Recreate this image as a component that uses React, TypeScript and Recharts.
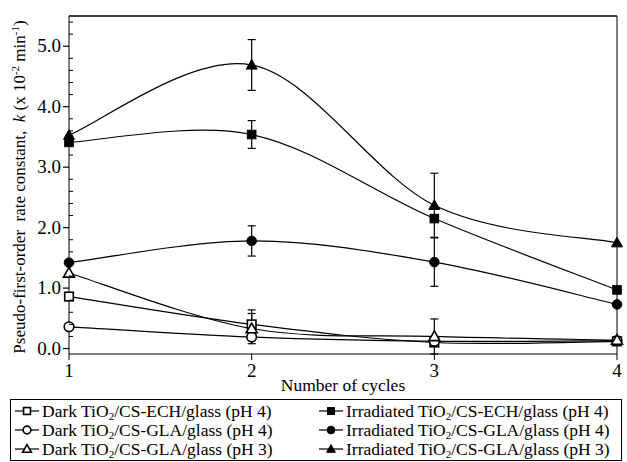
import React from "react"
import { LineChart, Line, XAxis, YAxis, ErrorBar, ReferenceLine } from "recharts"

const CYCLES = [1, 2, 3, 4]
const DARK_ECH = [0.86, 0.4, 0.1, 0.12]
const DARK_GLA4 = [0.36, 0.19, 0.12, 0.13]
const DARK_GLA3 = [1.25, 0.33, 0.2, 0.14]
const IRR_ECH = [3.41, 3.54, 2.15, 0.97]
const IRR_GLA4 = [1.42, 1.78, 1.43, 0.73]
const IRR_GLA3 = [3.53, 4.69, 2.37, 1.75]

const DARK_ECH_ERR = [0, 0.24, 0, 0]
const DARK_GLA4_ERR = [0, 0, 0, 0]
const DARK_GLA3_ERR = [0, 0.25, 0.29, 0]
const IRR_ECH_ERR = [0, 0.23, 0, 0]
const IRR_GLA4_ERR = [0, 0.25, 0.4, 0]
const IRR_GLA3_ERR = [0, 0.42, 0.53, 0]

const X_TICKS = [1, 2, 3, 4]
const Y_MAX = 5.5
const Y_TICKS = Array.from({ length: 28 }, (_, i) => Math.round(i * 2) / 10)
const Y_LABELS = ["0.0", "1.0", "2.0", "3.0", "4.0", "5.0"]

const SERIES = [
    { key: "darkEch", values: DARK_ECH, err: DARK_ECH_ERR, shape: "square", filled: false, name: "Dark", film: "CS-ECH", ph: 4 },
    { key: "darkGla4", values: DARK_GLA4, err: DARK_GLA4_ERR, shape: "circle", filled: false, name: "Dark", film: "CS-GLA", ph: 4 },
    { key: "darkGla3", values: DARK_GLA3, err: DARK_GLA3_ERR, shape: "triangle", filled: false, name: "Dark", film: "CS-GLA", ph: 3 },
    { key: "irrEch", values: IRR_ECH, err: IRR_ECH_ERR, shape: "square", filled: true, name: "Irradiated", film: "CS-ECH", ph: 4 },
    { key: "irrGla4", values: IRR_GLA4, err: IRR_GLA4_ERR, shape: "circle", filled: true, name: "Irradiated", film: "CS-GLA", ph: 4 },
    { key: "irrGla3", values: IRR_GLA3, err: IRR_GLA3_ERR, shape: "triangle", filled: true, name: "Irradiated", film: "CS-GLA", ph: 3 },
]

const data = CYCLES.map((c, i) => {
    const row: Record<string, number> = { cycle: c }
    SERIES.forEach(s => {
        row[s.key] = s.values[i]
        row[s.key + "Err"] = s.err[i]
    })
    return row
})

const FONT = '"Liberation Serif"'

// excel-like smoothed line (catmull-rom through the points)
function smoothCurve(context: any) {
    let pts: number[][] = []
    return {
        areaStart() {},
        areaEnd() {},
        lineStart() {
            pts = []
        },
        point(x: number, y: number) {
            pts.push([+x, +y])
        },
        lineEnd() {
            if (!pts.length) return
            context.moveTo(pts[0][0], pts[0][1])
            for (let i = 0; i < pts.length - 1; i++) {
                const p0 = pts[i - 1] || pts[i]
                const p1 = pts[i]
                const p2 = pts[i + 1]
                const p3 = pts[i + 2] || p2
                context.bezierCurveTo(
                    p1[0] + (p2[0] - p0[0]) / 6,
                    p1[1] + (p2[1] - p0[1]) / 6,
                    p2[0] - (p3[0] - p1[0]) / 6,
                    p2[1] - (p3[1] - p1[1]) / 6,
                    p2[0],
                    p2[1]
                )
            }
        },
    }
}

function Marker({ cx, cy, shape, filled, size = 1 }: any) {
    const fill = filled ? "#000" : "#fff"
    const sw = filled ? 1 : 1.6
    if (shape === "square") {
        const h = 4.3 * size
        return <rect x={cx - h} y={cy - h} width={2 * h} height={2 * h} fill={fill} stroke="#000" strokeWidth={sw} />
    }
    if (shape === "circle") {
        return <circle cx={cx} cy={cy} r={4.8 * size} fill={fill} stroke="#000" strokeWidth={sw} />
    }
    const r = 5.5 * size
    return (
        <polygon
            points={`${cx},${cy - r} ${cx + r},${cy + r * 0.75} ${cx - r},${cy + r * 0.75}`}
            fill={fill}
            stroke="#000"
            strokeWidth={sw}
        />
    )
}

function LeftTick(props: any) {
    const { x, y, payload } = props
    const v = payload.value
    const major = Math.abs(v - Math.round(v)) < 1e-6
    return (
        <g>
            {major ? (
                <>
                    <line x1={x - 6} y1={y} x2={x} y2={y} stroke="#000" strokeWidth={1.2} />
                    <text x={x - 8} y={y + 6} textAnchor="end" fontSize={19} style={{ fontFamily: FONT }} fill="#000">
                        {Y_LABELS[Math.round(v)]}
                    </text>
                </>
            ) : (
                <line x1={x} y1={y} x2={x + 4} y2={y} stroke="#000" strokeWidth={1} />
            )}
        </g>
    )
}

function RightTick(props: any) {
    const { x, y, payload } = props
    const v = payload.value
    const major = Math.abs(v - Math.round(v)) < 1e-6
    return <line x1={x - (major ? 6 : 4)} y1={y} x2={x} y2={y} stroke="#000" strokeWidth={1} />
}

function YLabel(props: any) {
    const { viewBox } = props
    const x = viewBox.x + 25
    const y = viewBox.y + viewBox.height / 2 + 2
    return (
        <text
            x={x}
            y={y}
            transform={`rotate(-90, ${x}, ${y})`}
            textAnchor="middle"
            fontSize={17}
            style={{ fontFamily: FONT, whiteSpace: "pre" }}
            fill="#000"
        >
            <tspan>{"Pseudo-first-order  rate constant,  "}</tspan>
            <tspan fontStyle="italic">k</tspan>
            <tspan>{" (x 10"}</tspan>
            <tspan dy={-6} fontSize={11}>-2</tspan>
            <tspan dy={6}>{" min"}</tspan>
            <tspan dy={-6} fontSize={11}>-1</tspan>
            <tspan dy={6}>)</tspan>
        </text>
    )
}

function XLabel(props: any) {
    const { viewBox } = props
    return (
        <text
            x={viewBox.x + viewBox.width / 2}
            y={viewBox.y + 37}
            textAnchor="middle"
            fontSize={17.5}
            style={{ fontFamily: FONT }}
            fill="#000"
        >
            Number of cycles
        </text>
    )
}

function LegendItem({ s }: any) {
    return (
        <div style={{ display: "flex", alignItems: "center", height: 18.8 }}>
            <svg width={24} height={14} style={{ marginRight: 3 }}>
                <line x1={0} y1={7} x2={24} y2={7} stroke="#000" strokeWidth={1.2} />
                <Marker cx={12} cy={7} shape={s.shape} filled={s.filled} size={0.8} />
            </svg>
            <span style={{ whiteSpace: "nowrap" }}>
                {s.name} TiO<sub style={{ fontSize: 11, verticalAlign: "-3px", lineHeight: 0 }}>2</sub>/{s.film}/glass (pH {s.ph})
            </span>
        </div>
    )
}

export default function App() {
    const left = SERIES.filter(s => !s.filled)
    const right = SERIES.filter(s => s.filled)
    return (
        <div style={{ position: "absolute", left: 0, top: 0, width: 627, height: 462, background: "#fff", fontFamily: FONT }}>
            <LineChart width={627} height={397} data={data} margin={{ top: 16, right: 5, left: 0, bottom: 0 }}>
                <XAxis
                    dataKey="cycle"
                    type="number"
                    domain={[1, 4]}
                    ticks={X_TICKS}
                    height={43}
                    stroke="#000"
                    tickSize={6}
                    tickMargin={4}
                    tick={{ fill: "#000", fontSize: 19, style: { fontFamily: FONT } }}
                    label={<XLabel />}
                />
                <YAxis
                    yAxisId="left"
                    type="number"
                    domain={[0, Y_MAX]}
                    ticks={Y_TICKS}
                    width={69}
                    stroke="#000"
                    tickLine={false}
                    tickSize={0}
                    tickMargin={0}
                    tick={<LeftTick />}
                    interval={0}
                    label={<YLabel />}
                />
                <YAxis
                    yAxisId="right"
                    orientation="right"
                    type="number"
                    domain={[0, Y_MAX]}
                    ticks={Y_TICKS}
                    width={5}
                    stroke="#000"
                    tickLine={false}
                    tickSize={0}
                    tickMargin={0}
                    tick={<RightTick />}
                    interval={0}
                />
                <ReferenceLine yAxisId="left" y={Y_MAX} stroke="#000" strokeWidth={1.5} />
                {SERIES.map(s => (
                    <Line
                        key={s.key}
                        yAxisId="left"
                        dataKey={s.key}
                        type={smoothCurve as any}
                        stroke="#000"
                        strokeWidth={1.2}
                        isAnimationActive={false}
                        dot={(p: any) => <Marker key={`${s.key}-${p.index}`} cx={p.cx} cy={p.cy} shape={s.shape} filled={s.filled} />}
                        activeDot={false}
                    >
                        <ErrorBar dataKey={s.key + "Err"} direction="y" width={4} stroke="#000" strokeWidth={1.2} />
                    </Line>
                ))}
            </LineChart>
            <div
                style={{
                    position: "absolute",
                    left: 10,
                    top: 399,
                    width: 612,
                    height: 62,
                    border: "1px solid #000",
                    boxSizing: "border-box",
                    display: "flex",
                    fontSize: 17.5,
                    paddingTop: 2,
                }}
            >
                <div style={{ marginLeft: 4, width: 304 }}>
                    {left.map(s => <LegendItem key={s.key} s={s} />)}
                </div>
                <div>
                    {right.map(s => <LegendItem key={s.key} s={s} />)}
                </div>
            </div>
        </div>
    )
}
